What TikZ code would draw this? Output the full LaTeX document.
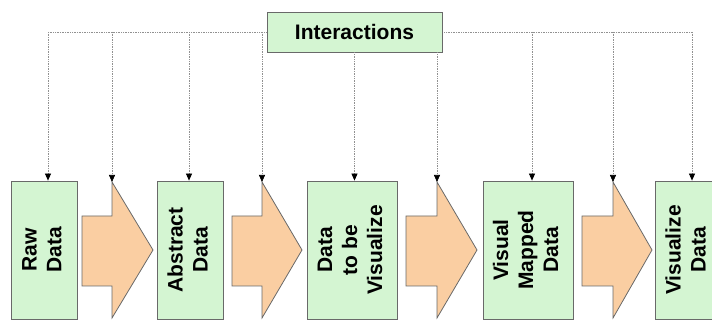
\documentclass[tikz,border=0pt]{standalone}
\usepackage{fontspec}
\setmainfont{Liberation Sans}
\usepackage{graphicx}
\usetikzlibrary{arrows.meta}
\definecolor{boxgreen}{RGB}{212,245,210}
\definecolor{peach}{RGB}{250,206,162}
\definecolor{edgegray}{RGB}{105,105,105}
\definecolor{linegray}{RGB}{145,145,145}
% vertical (bottom-to-top) multi-line label
\newcommand\vlabel[1]{\rotatebox{90}{\begin{tabular}{@{}c@{}}#1\end{tabular}}}
% block arrow between stages: name of head corner, tail x, head x, tip x
\newcommand\flowshape[4]{%
  \draw[flowarrow] (#2,104) -- (#3,104) -- (#3,138) -- (#4,70) -- (#3,2) -- (#3,34) -- (#2,34) -- cycle;
  \coordinate (#1) at (#3,138);}
\begin{document}
\begin{tikzpicture}[x=1pt,y=1pt,
  labelfont/.style={font=\fontsize{21}{25}\selectfont\bfseries},
  stagebox/.style={draw=edgegray, fill=boxgreen, line width=0.8pt,
    minimum height=138pt, inner sep=0pt, labelfont},
  flowarrow/.style={draw=edgegray, fill=peach, line width=0.8pt, line join=miter},
  bus/.style={linegray, densely dotted, line width=0.7pt},
  drop/.style={bus, -{Triangle[length=7pt,width=6pt,color=black]}}]
\useasboundingbox (0,0) rectangle (712,320);

% pipeline stages
\node[stagebox, minimum width=66pt] (raw) at (44,70) {\vlabel{Raw\\Data}};
\node[stagebox, minimum width=66pt] (abs) at (190,70) {\vlabel{Abstract\\Data}};
\node[stagebox, minimum width=90pt] (dtv) at (352,70) {\vlabel{Data\\to be\\Visualize}};
\node[stagebox, minimum width=90pt] (vmd) at (528,70) {\vlabel{Visual\\Mapped\\Data}};
\node[stagebox, minimum width=66pt] (vis) at (688,70) {\vlabel{Visualize\\Data}};

% transformations between stages
\flowshape{a1}{82}{112}{153}
\flowshape{a2}{232}{262}{302}
\flowshape{a3}{406}{437}{477}
\flowshape{a4}{582}{613}{652}

% interaction bus
\coordinate (busL) at (48,288);
\coordinate (busR) at (692,288);
\draw[bus] (busL) -- (busR);
\node[draw=edgegray, fill=boxgreen, line width=0.8pt, minimum width=175pt,
  minimum height=40pt, labelfont] (inter) at (354.5,288) {Interactions};

% drops from the bus to every stage and transformation
\draw[drop] (busL) -- (busL |- raw.north);
\draw[drop] (a1 |- busL) -- (a1);
\draw[drop] ([xshift=-1pt]abs.north |- busL) -- ([xshift=-1pt]abs.north);
\draw[drop] (a2 |- busL) -- (a2);
\draw[drop] (inter.south) -- (inter.south |- dtv.north);
\draw[drop] (a3 |- inter.south) -- (a3);
\draw[drop] ([xshift=4pt]vmd.north |- busL) -- ([xshift=4pt]vmd.north);
\draw[drop] (a4 |- busL) -- (a4);
\draw[drop] (busR) -- (busR |- vis.north);
\end{tikzpicture}
\end{document}
